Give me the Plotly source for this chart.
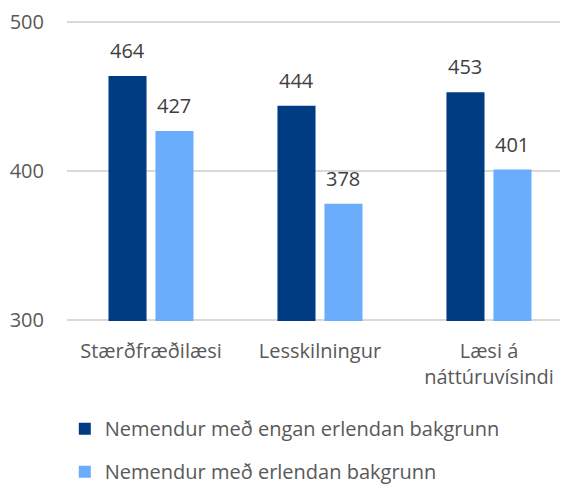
import plotly.graph_objects as go

categories = ["Stærðfræðilæsi", "Lesskilningur", "Læsi á<br>náttúruvísindi"]
series_names = ["Nemendur með engan erlendan bakgrunn", "Nemendur með erlendan bakgrunn"]
values_no_foreign = [464, 444, 453]
values_foreign = [427, 378, 401]
tick_vals = [300, 400, 500]

colors = ["#003c82", "#6aadfc"]
font_family = "Open Sans, Liberation Sans, sans-serif"
text_color = "#595959"
label_color = "#404040"
fs = 20

fig = go.Figure()
series = [values_no_foreign, values_foreign]
for i, (name, vals) in enumerate(zip(series_names, series)):
    fig.add_trace(go.Bar(
        x=categories, y=vals, name=name,
        marker=dict(color=colors[i], line=dict(width=0)),
        legendgroup=f"g{i}",
    ))

# data labels (placed over each bar, lifted above its top)
offsets = [-23.5, 23.5]
for i, vals in enumerate(series):
    for cat, v in zip(categories, vals):
        fig.add_annotation(x=cat, y=v, xref="x", yref="y", text=str(v), showarrow=False,
                           xshift=offsets[i], yshift=10, yanchor="bottom",
                           font=dict(size=fs, color=label_color, family=font_family))

fig.update_layout(
    width=568, height=488,
    margin=dict(l=59, r=0, t=12.5, b=174.5, autoexpand=False),
    plot_bgcolor="white", paper_bgcolor="white",
    barmode="group", bargap=0.444, bargroupgap=0.19,
    font=dict(family=font_family, size=fs, color=text_color),
    showlegend=True,
    legend=dict(orientation="v", x=0.1, xref="container", y=0.178, yref="container",
                yanchor="top", xanchor="left", tracegroupgap=14,
                font=dict(size=fs, color=text_color), itemwidth=30),
)
fig.update_yaxes(range=[299, 501], tickvals=tick_vals, showgrid=True, gridcolor="#d9d9d9",
                 gridwidth=1.5, zeroline=False, showline=False, ticks="", automargin=False,
                 tickfont=dict(size=fs, color=text_color), ticklabelstandoff=22)
fig.update_xaxes(showline=False, ticks="", tickfont=dict(size=fs, color=text_color), automargin=False,
                 tickangle=0, range=[-0.497, 2.515], ticklabelstandoff=16)
fig.write_html("out.html")
